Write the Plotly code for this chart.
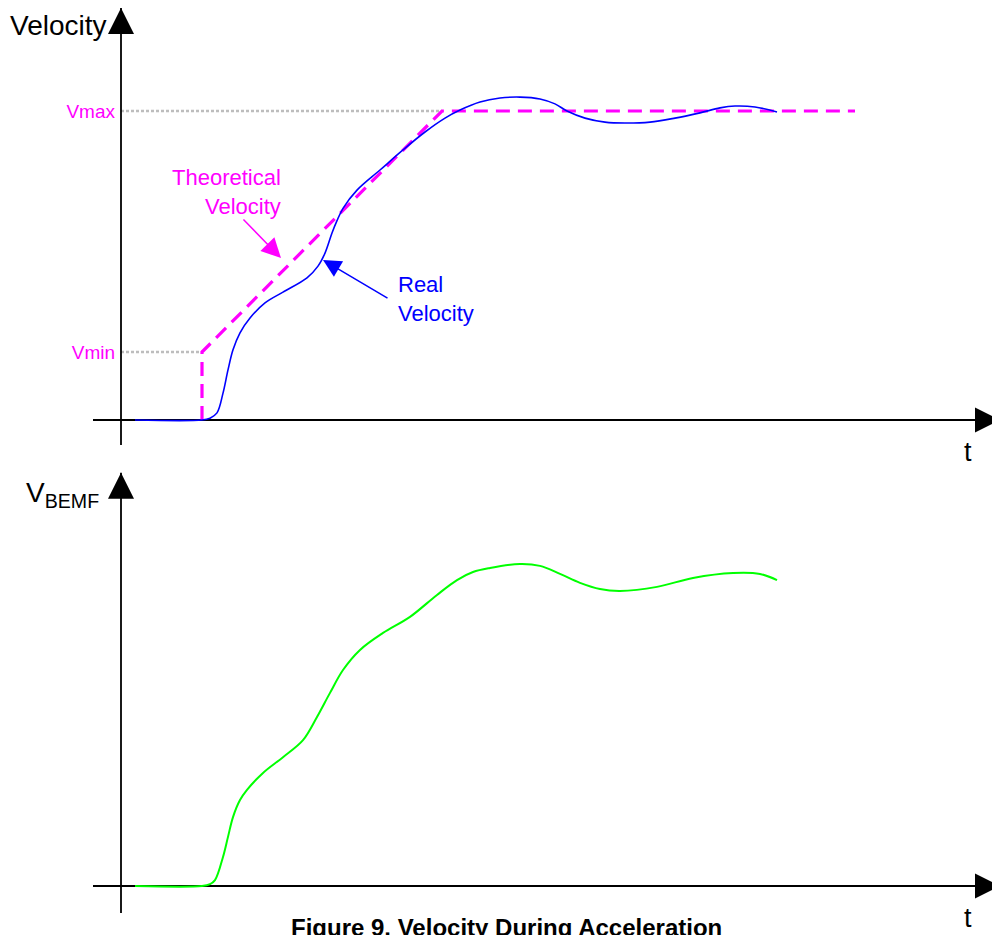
import plotly.graph_objects as go

# ---- data (time in arbitrary units, velocity in % of Vmax) ----
v_min = 22
v_max = 100
tick_labels = ["Vmin", "Vmax"]

theo_t = [8.1, 8.1, 32.1, 73.4]
theo_v = [0, v_min, v_max, v_max]

real_t = [1.4, 8.1, 8.9, 9.6, 10.2, 10.7, 11.2, 11.9, 12.9, 14.4, 16.2, 18.6, 19.7, 20.4,
          21.1, 21.6, 22.2, 23.6, 25.9, 28.2, 30.4, 32.4, 33.9, 35.9, 37.9, 39.9, 41.9,
          43.4, 44.6, 46.4, 48.4, 50.4, 52.9, 55.4, 57.9, 59.9, 61.4, 63.4, 65.6]
real_v = [0, 0, 0.6, 2.3, 8.7, 16.2, 22.7, 28.2, 33.0, 37.9, 41.4, 46.0, 49.8, 54.0,
          60.5, 64.5, 68.5, 74.4, 80.9, 87.4, 93.2, 97.7, 100.3, 102.9, 104.2, 104.5, 103.9,
          102.3, 100.0, 97.7, 96.4, 96.1, 96.4, 97.7, 99.4, 101.0, 101.6, 101.3, 99.7]

bemf_t = [1.4, 8.1, 8.9, 9.4, 10.2, 10.7, 11.2, 11.9, 12.6, 14.2, 16.2, 18.2, 19.6, 20.9,
          22.2, 23.9, 26.2, 28.9, 31.6, 33.6, 35.2, 36.9, 39.9, 41.9, 43.9, 45.9, 47.9,
          49.9, 53.6, 57.2, 61.2, 63.9, 65.6]
bemf_v = [0, 0, 0.6, 1.9, 9.4, 15.9, 22.3, 27.8, 31.1, 36.6, 41.7, 47.2, 54.7, 62.5,
          69.9, 76.4, 81.9, 87.1, 94.2, 99.0, 101.6, 102.9, 104.2, 103.6, 101.0, 98.1, 96.1,
          95.5, 96.8, 99.7, 101.3, 101.0, 99.0]

# axis extents (arrow lines)
t_axis = [-2.8, 87.9]
v_axis_top = [-8.1, 133.3]
v_axis_bot = [-8.7, 133.7]

FONT = "Liberation Sans, Arial, Helvetica, sans-serif"
MAG = "#ff00ff"
BLUE = "#0000ff"
GREEN = "#00ff00"

# page has an 8px body margin: the figure is 992x927 and offset by 8px
OFF = 8
W = 1000 - OFF
H = 935 - OFF
SCALE_T = 10.0     # px per time unit
SCALE_V = 3.09     # px per velocity unit
X0 = 121 - OFF     # t = 0
Y0_TOP = 420 - OFF
Y0_BOT = 886 - OFF
SPLIT = 470 - OFF

fig = go.Figure()

def axis_traces(xa, ya, v_ext):
    fig.add_trace(go.Scatter(x=t_axis, y=[0, 0], mode="lines", xaxis=xa, yaxis=ya,
                             line=dict(color="black", width=1.8), hoverinfo="skip"))
    fig.add_trace(go.Scatter(x=[t_axis[1]], y=[0], mode="markers", xaxis=xa, yaxis=ya,
                             marker=dict(symbol="arrow-right", size=25, color="black"),
                             cliponaxis=False, hoverinfo="skip"))
    fig.add_trace(go.Scatter(x=[0, 0], y=v_ext, mode="lines", xaxis=xa, yaxis=ya,
                             line=dict(color="black", width=1.8), hoverinfo="skip"))
    fig.add_trace(go.Scatter(x=[0], y=[v_ext[1]], mode="markers", xaxis=xa, yaxis=ya,
                             marker=dict(symbol="arrow-up", size=26, color="black"),
                             cliponaxis=False, hoverinfo="skip"))

fig.add_trace(go.Scatter(x=[0, theo_t[2]], y=[v_max, v_max], mode="lines",
                         line=dict(color="#bdbdbd", width=2.5, dash="3px,2px"), hoverinfo="skip"))
fig.add_trace(go.Scatter(x=[0, theo_t[1]], y=[v_min, v_min], mode="lines",
                         line=dict(color="#bdbdbd", width=2.5, dash="3px,2px"), hoverinfo="skip"))

axis_traces("x", "y", v_axis_top)
axis_traces("x2", "y2", v_axis_bot)

fig.add_trace(go.Scatter(x=theo_t, y=theo_v, mode="lines",
                         line=dict(color=MAG, width=3.2, dash="14px,8px"), name="Theoretical"))
fig.add_trace(go.Scatter(x=real_t, y=real_v, mode="lines",
                         line=dict(color=BLUE, width=1.6, shape="spline", smoothing=1.0), name="Real"))
fig.add_trace(go.Scatter(x=bemf_t, y=bemf_v, mode="lines", xaxis="x2", yaxis="y2",
                         line=dict(color=GREEN, width=2, shape="spline", smoothing=1.0), name="BEMF"))

t_range = [-X0 / SCALE_T, (W - X0) / SCALE_T]
fig.update_layout(
    width=W, height=H, margin=dict(l=0, r=0, t=0, b=0),
    paper_bgcolor="white", plot_bgcolor="white", showlegend=False,
    font=dict(family=FONT),
    xaxis=dict(domain=[0, 1], range=t_range, visible=False, anchor="y"),
    yaxis=dict(domain=[1 - SPLIT / H, 1], range=[(Y0_TOP - SPLIT) / SCALE_V, Y0_TOP / SCALE_V],
               anchor="free", position=X0 / W, showgrid=False, zeroline=False, showline=False,
               tickvals=[v_min, v_max], ticktext=tick_labels, ticks="",
               tickfont=dict(color=MAG, size=19, family=FONT), ticklabelstandoff=6),
    xaxis2=dict(domain=[0, 1], range=t_range, visible=False, anchor="y2"),
    yaxis2=dict(domain=[0, 1 - SPLIT / H], range=[(Y0_BOT - H) / SCALE_V, (Y0_BOT - SPLIT) / SCALE_V],
                anchor="x2", visible=False),
)

def px(x, y):
    return dict(x=(x - OFF) / W, y=1 - (y - OFF) / H, xref="paper", yref="paper")

ann = [
    dict(text="Velocity", xanchor="left", yanchor="middle", font=dict(size=28, color="black"), **px(8, 26)),
    dict(text="V<sub>BEMF</sub>", xanchor="left", yanchor="middle", font=dict(size=28, color="black"), **px(24, 494)),
    dict(text="t", xanchor="center", yanchor="middle", font=dict(size=27, color="black"), **px(968, 452)),
    dict(text="t", xanchor="center", yanchor="middle", font=dict(size=27, color="black"), **px(968, 918)),
    dict(text="Theoretical<br>Velocity", xanchor="right", yanchor="middle", align="right",
         font=dict(size=22, color=MAG), **px(283, 192)),
    dict(text="Real<br>Velocity", xanchor="left", yanchor="middle", align="left",
         font=dict(size=22, color=BLUE), **px(396, 299)),
    dict(text="<b>Figure 9. Velocity During Acceleration</b>", xanchor="center", yanchor="middle",
         font=dict(size=24, color="black"), **px(506, 927)),
]
for a in ann:
    fig.add_annotation(showarrow=False, **a)

# pointer arrows
fig.add_annotation(x=20.2, y=51.8, xref="x", yref="y", ax=66, ay=39, text="", showarrow=True,
                   arrowhead=2, arrowsize=2.4, arrowwidth=1.5, arrowcolor=BLUE, standoff=0)
fig.add_annotation(x=16.0, y=52.4, xref="x", yref="y", ax=-39, ay=-40, text="", showarrow=True,
                   arrowhead=2, arrowsize=2.6, arrowwidth=1.5, arrowcolor=MAG, standoff=0)

fig.write_html("out.html")
